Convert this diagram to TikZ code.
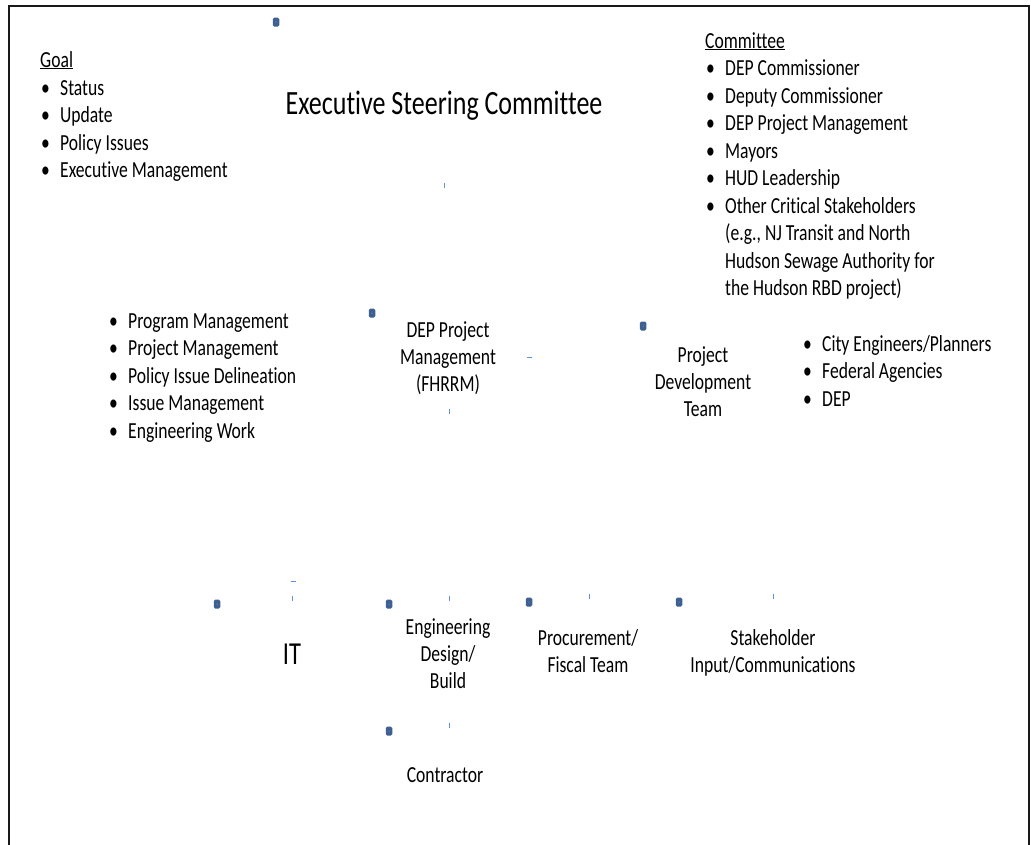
\documentclass[tikz,border=0pt]{standalone}
\usepackage{fontspec}
\setmainfont{Carlito}[FakeStretch=0.765, Ligatures=NoCommon]
\definecolor{handleblue}{RGB}{62,96,145}
\definecolor{handledot}{RGB}{150,175,210}
\definecolor{tickblue}{RGB}{95,145,215}
\newcommand{\bl}{\llap{\makebox[19pt][l]{•}}}
\tikzset{
  txt/.style={inner sep=0pt, font=\fontsize{23}{27.5}\selectfont},
  big/.style={inner sep=0pt, font=\fontsize{34}{40}\selectfont},
  lst/.style={txt, anchor=base west},
  ctr/.style={txt, anchor=base},
  handle/.style={draw=none, fill=handleblue, rounded corners=1.5pt, minimum width=6.5pt, minimum height=9pt, inner sep=0pt},
  tick/.style={draw=tickblue, line width=1pt},
  frame/.style={draw=black!90, line width=2.2pt}
}
\begin{document}
\begin{tikzpicture}[x=1pt,y=-1pt]
\useasboundingbox (0,0) rectangle (1031,844);
% frame (open at bottom)
\coordinate (fbl) at (9,850);
\coordinate (ftl) at (9,6);
\coordinate (ftr) at (1029,6);
\coordinate (fbr) at (1029,850);
\draw[frame] (fbl) -- (ftl) -- (ftr) -- (fbr);

% handles
\foreach \n/\x/\y in {h1/276/22, h2/372/313, h3/643/326, h4/217/604, h5/389/604, h6/529/602, h7/679/602, h8/389/731}{
  \node[handle] (\n) at (\x,\y) {};
  \fill[handledot] (\n.center) circle (0.5pt);
}
% ticks
\foreach \x/\y in {444/185, 449/411, 292/598, 449/598, 589/596, 773/596, 449/725}{
  \draw[tick] (\x,\y-2.5) -- (\x,\y+2.5);
}
\foreach \x/\y in {529/357, 293/581}{
  \draw[tick] (\x-2.5,\y) -- (\x+2.5,\y);
}

% title
\node[big, anchor=base] (esc) at (444,114) {Executive Steering Committee};

% goal list
\node[lst] (goal) at (40,67) {\underline{Goal}};
\node[lst] (g1) at (60,95) {\bl Status};
\node[lst] (g2) at (60,122.5) {\bl Update};
\node[lst] (g3) at (60,150) {\bl Policy Issues};
\node[lst] (g4) at (60,177.5) {\bl Executive Management};

% committee list
\node[lst] (comm) at (705,48) {\underline{Committee}};
\node[lst] (c1) at (725,75.5) {\bl DEP Commissioner};
\node[lst] (c2) at (725,103) {\bl Deputy Commissioner};
\node[lst] (c3) at (725,130.5) {\bl DEP Project Management};
\node[lst] (c4) at (725,158) {\bl Mayors};
\node[lst] (c5) at (725,185.5) {\bl HUD Leadership};
\node[lst] (c6) at (725,213) {\bl Other Critical Stakeholders};
\node[lst] (c7) at (725,240.5) {(e.g., NJ Transit and North};
\node[lst] (c8) at (725,268) {Hudson Sewage Authority for};
\node[lst] (c9) at (725,295.5) {the Hudson RBD project)};

% program list
\node[lst] (p1) at (128,328) {\bl Program Management};
\node[lst] (p2) at (128,355.5) {\bl Project Management};
\node[lst] (p3) at (128,383) {\bl Policy Issue Delineation};
\node[lst] (p4) at (128,410.5) {\bl Issue Management};
\node[lst] (p5) at (128,438) {\bl Engineering Work};

% DEP project management
\node[ctr] (dep1) at (448,337) {DEP Project};
\node[ctr] (dep2) at (448,364) {Management};
\node[ctr] (dep3) at (448,391) {(FHRRM)};

% project development team
\node[ctr] (pdt1) at (703,362) {Project};
\node[ctr] (pdt2) at (703,389) {Development};
\node[ctr] (pdt3) at (703,416) {Team};

% city list
\node[lst] (ce1) at (822,351) {\bl City Engineers/Planners};
\node[lst] (ce2) at (822,378.5) {\bl Federal Agencies};
\node[lst] (ce3) at (822,406) {\bl DEP};

% bottom row
\node[big, anchor=base, font=\fontsize{32}{38}\selectfont] (it) at (292,664) {IT};
\node[ctr] (eng1) at (448,634) {Engineering};
\node[ctr] (eng2) at (448,661) {Design/};
\node[ctr] (eng3) at (448,688) {Build};
\node[ctr] (proc1) at (588,645) {Procurement/};
\node[ctr] (proc2) at (588,672) {Fiscal Team};
\node[ctr] (stk1) at (773,645) {Stakeholder};
\node[ctr] (stk2) at (773,672) {Input/Communications};
\node[ctr] (con) at (445,782) {Contractor};
\end{tikzpicture}
\end{document}
